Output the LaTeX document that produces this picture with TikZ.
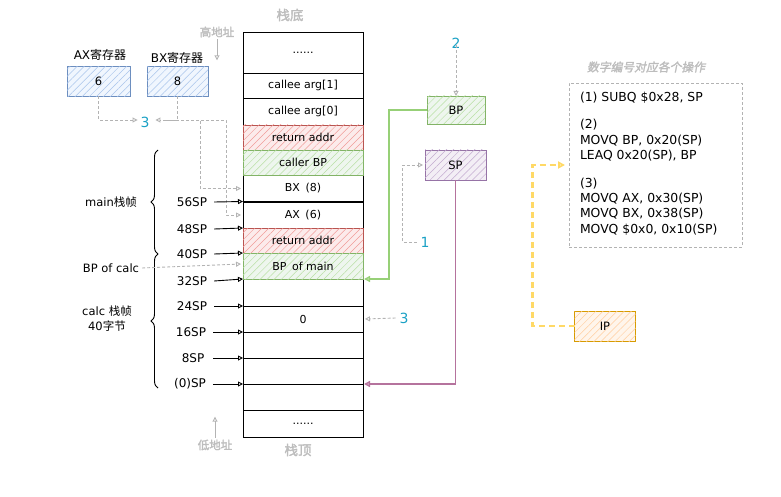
\documentclass[tikz,border=0pt]{standalone}
\usepackage{fontspec}
\setmainfont{DejaVu Sans}
\newfontfamily\cjk{Noto Sans CJK SC}
\newfontfamily\titlefont[FakeSlant=0.2,FakeBold=2]{Noto Sans CJK SC}
\newfontfamily\boldcjk[FakeBold=2]{Noto Sans CJK SC}
\usetikzlibrary{patterns.meta,arrows.meta,decorations.pathreplacing}
\definecolor{bluestroke}{HTML}{6C8EBF}
\definecolor{bluefill}{HTML}{DAE8FC}
\definecolor{bluehatch}{HTML}{A9C4EB}
\definecolor{greenstroke}{HTML}{82B366}
\definecolor{greenfill}{HTML}{D5E8D4}
\definecolor{greenhatch}{HTML}{B9E0A5}
\definecolor{redstroke}{HTML}{B85450}
\definecolor{redfill}{HTML}{F8CECC}
\definecolor{redhatch}{HTML}{F19C99}
\definecolor{purplestroke}{HTML}{9673A6}
\definecolor{purplefill}{HTML}{E1D5E7}
\definecolor{purplehatch}{HTML}{C3ABD0}
\definecolor{orangestroke}{HTML}{D79B00}
\definecolor{orangefill}{HTML}{FFE6CC}
\definecolor{orangehatch}{HTML}{FFCE9F}
\definecolor{tealnum}{HTML}{1BA1C5}
\definecolor{greyline}{HTML}{B3B3B3}
\definecolor{greytext}{HTML}{BDBDBD}
\definecolor{pinkline}{HTML}{B5739D}
\definecolor{greenline}{HTML}{97D077}
\definecolor{yellowline}{HTML}{FFD966}
\tikzset{
  every node/.style={font=\fontsize{11}{12}\selectfont, inner sep=0pt, outer sep=0pt},
  cell/.style={draw=black, line width=0.9pt, minimum width=120pt, fill=white},
  hatched/.style n args={3}{draw=#1, line width=0.9pt, fill=#2!40!white,
    postaction={pattern={Lines[angle=45,distance=5pt,line width=0.5pt]}, pattern color=#3}},
  arr/.style={line width=0.9pt, -{Triangle[open,length=5pt,width=5pt]}},
  greydash/.style={draw=greyline, line width=0.9pt, dash pattern=on 3pt off 2pt,
    -{Triangle[open,length=5pt,width=5pt]}},
  num/.style={text=tealnum, font=\fontsize{14}{15}\selectfont},
  greylabel/.style={text=greytext, font=\boldcjk\fontsize{11.5}{13}\selectfont},
  splabel/.style={font=\fontsize{12}{13}\selectfont},
  sidelabel/.style={font=\fontsize{11.5}{13}\selectfont},
  reg/.style={minimum width=62pt, minimum height=30pt, font=\fontsize{11.5}{12}\selectfont},
}
\begin{document}
\begin{tikzpicture}[x=1pt,y=-1pt]
\useasboundingbox (0,0) rectangle (781,497);

% ---- stack column ----
\node[cell, minimum height=41pt] (top) at (303,52.5) {......};
\node[cell, minimum height=25pt] (a1) at (303,85.5) {callee arg[1]};
\node[cell, minimum height=27pt] (a0) at (303,111.5) {callee arg[0]};
\node[cell, minimum height=26pt] (bx) at (303,188.5) {BX\enspace(8)};
\node[cell, minimum height=26pt] (ax) at (303,215) {AX\enspace(6)};
\node[cell, minimum height=27pt] (e1) at (303,292.5) {};
\node[cell, minimum height=26pt] (zero) at (303,319) {0};
\node[cell, minimum height=26pt] (e2) at (303,345) {};
\node[cell, minimum height=26pt] (e3) at (303,371) {};
\node[cell, minimum height=26pt] (e4) at (303,397) {};
\node[cell, minimum height=27pt] (bot) at (303,423.5) {......};
\node[hatched={redstroke}{redfill}{redhatch}, minimum width=120pt, minimum height=25pt] (ra1) at (303,137.5) {return addr};
\node[hatched={greenstroke}{greenfill}{greenhatch}, minimum width=120pt, minimum height=25pt] (cbp) at (303,162.5) {caller BP};
\node[hatched={redstroke}{redfill}{redhatch}, minimum width=120pt, minimum height=25pt] (ra2) at (303,240.5) {return addr};
\node[hatched={greenstroke}{greenfill}{greenhatch}, minimum width=120pt, minimum height=26pt] (bpm) at (303,266) {BP\enspace of main};

% ---- top / bottom labels ----
\node[greylabel, font=\boldcjk\fontsize{13.5}{15}\selectfont] (dizhi) at (290,15) {栈底};
\node[greylabel, font=\boldcjk\fontsize{13.5}{15}\selectfont] (dingt) at (298,450) {栈顶};
\node[greylabel] (hi) at (217,32) {高地址};
\node[greylabel] (lo) at (215,445) {低地址};
\draw[draw=greyline, line width=0.9pt, -{Triangle[open,length=5pt,width=5pt]}] ([yshift=-2pt]hi.south) -- ++(0,21);
\draw[draw=greyline, line width=0.9pt, -{Triangle[open,length=5pt,width=5pt]}] ([yshift=2pt]lo.north) -- ++(0,-21);

% ---- registers ----
\node[sidelabel, font=\fontsize{12}{13}\selectfont] (axlab) at (100,55) {AX{\cjk 寄存器}};
\node[sidelabel, font=\fontsize{12}{13}\selectfont] (bxlab) at (177,58) {BX{\cjk 寄存器}};
\node[reg, hatched={bluestroke}{bluefill}{bluehatch}, minimum width=63pt] (axreg) at (98.5,81.5) {6};
\node[reg, hatched={bluestroke}{bluefill}{bluehatch}, minimum width=61pt] (bxreg) at (177.5,81.5) {8};
\node[num] (n3a) at (145,122) {3};
\coordinate (j3) at (166,120);
\draw[greydash] (axreg.south) |- ([xshift=-3pt,yshift=2pt]n3a.west);
\draw[greydash] (bxreg.south) |- ([xshift=6pt,yshift=2pt]n3a.east);
\draw[greydash] (j3) -| ([xshift=-43pt]bx.west) -- ([xshift=-2pt]bx.west);
\draw[greydash] (j3) -| ([xshift=-17pt]ax.west) -- ([xshift=-2pt]ax.west);

% ---- SP labels ----
\node[splabel] (s56) at (192,202) {56SP};
\node[splabel] (s48) at (192,229) {48SP};
\node[splabel] (s40) at (192,254) {40SP};
\node[splabel] (s32) at (192,281) {32SP};
\node[splabel] (s24) at (192,306) {24SP};
\node[splabel] (s16) at (191,332) {16SP};
\node[splabel] (s8) at (193,358) {8SP};
\node[splabel] (s0) at (190,384) {(0)SP};
\draw[arr] ([xshift=7pt]s56.east) -- (bx.south west);
\draw[arr] ([xshift=7pt]s48.east) -- (ax.south west);
\draw[arr] ([xshift=7pt]s40.east) -- (ra2.south west);
\draw[arr] ([xshift=7pt]s32.east) -- (bpm.south west);
\draw[arr] ([xshift=7pt]s24.east) -- (e1.south west);
\draw[arr] ([xshift=7pt]s16.east) -- (zero.south west);
\draw[arr] ([xshift=9pt]s8.east) -- (e2.south west);
\draw[arr] ([xshift=7pt]s0.east) -- (e3.south west);

% ---- braces ----
\coordinate (b1t) at (158,150);
\coordinate (b1b) at (158,254);
\coordinate (b2t) at (158,254);
\coordinate (b2b) at (158,388);
\draw[line width=0.9pt, decorate, decoration={brace, amplitude=7pt}] (b1b) -- (b1t);
\draw[line width=0.9pt, decorate, decoration={brace, amplitude=7pt}] (b2b) -- (b2t);
\node[sidelabel] (mainlab) at (111,202) {main{\cjk 栈帧}};
\node[sidelabel, align=center, font=\fontsize{11.5}{15}\selectfont] (calclab) at (107,319) {calc {\cjk 栈帧}\\40{\cjk 字节}};
\node[sidelabel] (bpcalc) at (111,268) {BP of calc};
\draw[greydash] ([xshift=3pt]bpcalc.east) -- ([xshift=-2pt,yshift=2pt]bpm.west);

% ---- BP / SP registers ----
\node[num] (n2) at (456,43) {2};
\node[reg, hatched={greenstroke}{greenfill}{greenhatch}, minimum width=58pt, minimum height=28pt] (bp) at (456,110) {BP};
\node[reg, hatched={purplestroke}{purplefill}{purplehatch}, minimum width=61pt, minimum height=30pt] (sp) at (455.5,165) {SP};
\draw[greydash] ([yshift=3pt]n2.south) -- (bp.north);
\draw[draw=greenline, line width=1.6pt, -{Triangle[open,length=6pt,width=6pt]}] (bp.west) -- ++(-38,0) |- ([xshift=1pt]e1.north east);
\draw[draw=pinkline, line width=1.6pt, -{Triangle[open,length=6pt,width=6pt]}] (sp.south) |- ([xshift=1pt]e3.south east);
\node[num] (n1) at (425,242) {1};
\draw[greydash] ([xshift=-4pt]n1.west) -- ++(-14,0) |- ([xshift=-2pt]sp.west);
\node[num] (n3b) at (404,318) {3};
\draw[greydash] ([xshift=-4pt]n3b.west) -- ([xshift=2pt]zero.east);

% ---- instructions ----
\node[text=greytext, font=\titlefont\fontsize{11.8}{13}\selectfont] (title) at (646,67) {数字编号对应各个操作};
\node[draw=greyline, line width=0.9pt, dash pattern=on 3pt off 2pt, minimum width=173pt, minimum height=164pt] (instr) at (655.5,165) {};
\node[anchor=north west, align=left, font=\fontsize{12.4}{15.4}\selectfont] (instrtext) at (580,92) {(1) SUBQ \$0x28, SP\\[12pt](2)\\MOVQ BP, 0x20(SP)\\LEAQ 0x20(SP), BP\\[12pt](3)\\MOVQ AX, 0x30(SP)\\MOVQ BX, 0x38(SP)\\MOVQ \$0x0, 0x10(SP)};
\node[reg, hatched={orangestroke}{orangefill}{orangehatch}, minimum width=61pt, minimum height=30pt] (ip) at (605,326) {IP};
\draw[draw=yellowline, line width=2.5pt, dash pattern=on 6pt off 4pt, -{Triangle[open,length=7pt,width=7pt]}] (ip.west) -- ++(-42,0) |- ([xshift=-4pt]instr.west);
\end{tikzpicture}
\end{document}
